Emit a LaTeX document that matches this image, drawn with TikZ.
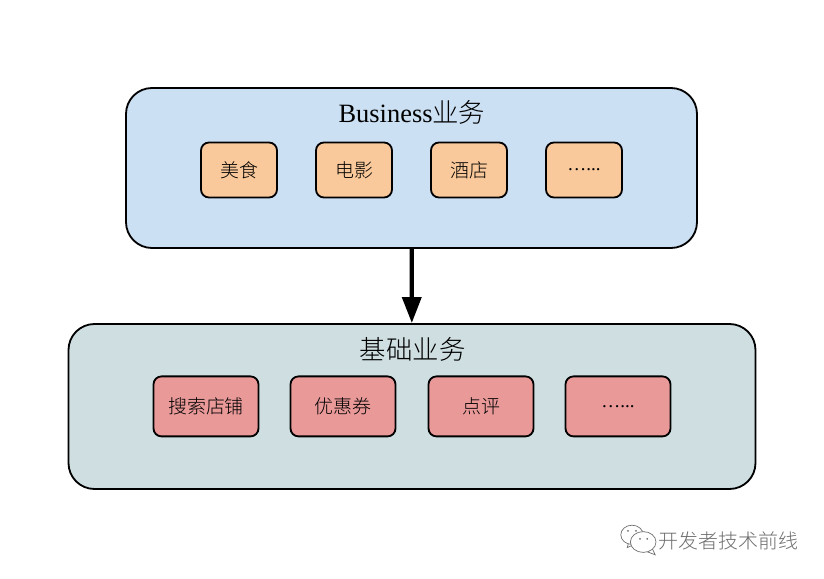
\documentclass[tikz,border=0pt]{standalone}
\usepackage{fontspec}
\setmainfont{Liberation Serif}
\newfontfamily\cjk[UprightFont=* Light]{Noto Sans CJK SC}
\usetikzlibrary{arrows.meta,positioning}
\definecolor{bizblue}{HTML}{CCE0F4}
\definecolor{itemorange}{HTML}{FAC99B}
\definecolor{basegreen}{HTML}{CFDFE1}
\definecolor{itemred}{HTML}{EA9999}
\definecolor{markgray}{HTML}{6E6E6E}

\begin{document}
\begin{tikzpicture}[
  panel/.style={draw, line width=1.3pt, rounded corners=0.65cm},
  bizpanel/.style={panel, fill=bizblue, minimum width=14.275cm, minimum height=4cm},
  basepanel/.style={panel, fill=basegreen, minimum width=17.175cm, minimum height=4.125cm},
  item/.style={draw, line width=1.3pt, rounded corners=0.2cm, font=\fontsize{13.5}{16}\selectfont,
               text=black, inner sep=0pt},
  bizitem/.style={item, fill=itemorange, minimum width=1.9cm, minimum height=1.375cm},
  baseitem/.style={item, fill=itemred, minimum width=2.625cm, minimum height=1.5cm},
  heading/.style={font=\fontsize{18.8}{22}\selectfont, text=black, inner sep=0pt},
  ar/.style={-{Triangle[length=0.65cm, width=0.47cm]}, line width=3pt},
  bubble/.style={draw=markgray, fill=white, line width=0.5pt},
]
\useasboundingbox (0,0) rectangle (20.6,14.45);

% ---- business layer -------------------------------------------------------
\node[bizpanel] (biz) at (10.2875,10.25) {};
\node[heading] (biztitle) at (10.3,11.64) {Business{\cjk 业务}};
\node[bizitem] (food)  at (5.975,10.2)  {\cjk 美食};
\node[bizitem] (movie) at (8.85,10.2)   {\cjk 电影};
\node[bizitem] (hotel) at (11.725,10.2) {\cjk 酒店};
\node[bizitem] (more)  at (14.6,10.2)   {…...};

% ---- base layer -----------------------------------------------------------
\node[basepanel] (base) at (10.3,4.2875) {};
\node[heading] (basetitle) at (10.32,5.72) {\cjk 基础业务};
\node[baseitem] (search) at (5.15,4.29) {\cjk 搜索店铺};
\node[baseitem] (coupon) at (8.575,4.29)  {\cjk 优惠券};
\node[baseitem] (review) at (12.025,4.29) {\cjk 点评};
\node[baseitem] (etc)    at (15.45,4.29)  {…...};

\draw[ar] (biz) -- (base);

% ---- watermark ------------------------------------------------------------
\draw[bubble] (15.75,1.0) -- (15.68,0.76) -- (15.95,0.88);
\draw[bubble] (15.8,1.08) ellipse (0.28 and 0.24);
\draw[bubble] (16.3,0.75) -- (16.38,0.58) -- (16.12,0.68);
\draw[bubble] (16.08,0.9) ellipse (0.32 and 0.26);
\fill[markgray] (15.7,1.18) circle (0.025) (15.9,1.18) circle (0.025)
  (16.0,0.98) circle (0.025) (16.18,0.98) circle (0.025);
\node[font=\fontsize{14.2}{16}\selectfont, text=markgray, anchor=west, inner sep=0pt] (mark)
  at (16.45,0.92) {\cjk 开发者技术前线};

\end{tikzpicture}
\end{document}
